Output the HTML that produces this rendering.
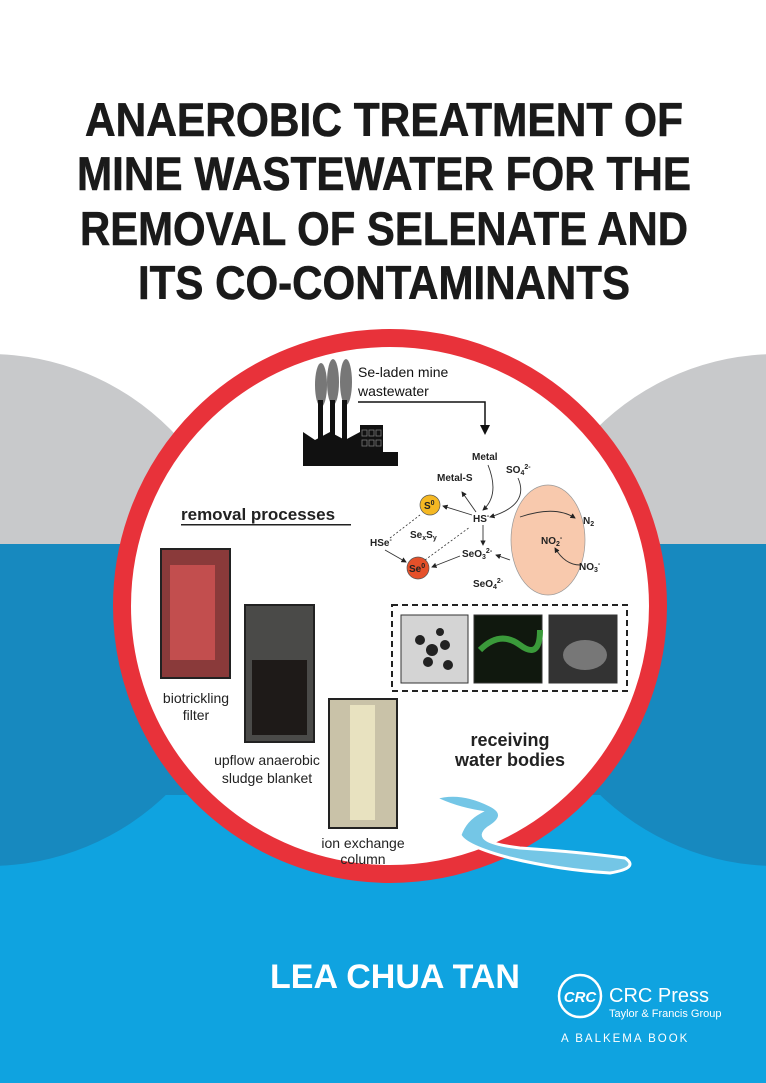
<!DOCTYPE html>
<html><head><meta charset="utf-8"><style>
html,body{margin:0;padding:0;width:766px;height:1083px;overflow:hidden;background:#fff}
svg{display:block}
text{font-family:"Liberation Sans",Arial,sans-serif}
</style></head><body>
<svg width="766" height="1083" viewBox="0 0 766 1083" xmlns="http://www.w3.org/2000/svg">
<defs>
<clipPath id="top"><rect x="0" y="0" width="766" height="544"/></clipPath>
<clipPath id="bot"><rect x="0" y="544" width="766" height="600"/></clipPath>
<marker id="ah" markerWidth="6" markerHeight="6" refX="5" refY="3" orient="auto"><path d="M0,0 L6,3 L0,6z" fill="#222"/></marker>
</defs>
<rect x="0" y="544" width="766" height="539" fill="#0fa3e0"/>
<rect x="0" y="544" width="766" height="251" fill="#1789bf"/>
<g clip-path="url(#top)"><circle cx="-11" cy="610" r="256" fill="#c8c9cb"/><circle cx="777" cy="610" r="256" fill="#c8c9cb"/></g>
<g clip-path="url(#bot)"><circle cx="-11" cy="610" r="256" fill="#1789bf"/><circle cx="777" cy="610" r="256" fill="#1789bf"/></g>

<g font-weight="bold" font-size="47" fill="#1a1a1a" text-anchor="middle" stroke="#1a1a1a" stroke-width="0.6">
<text x="384" y="136" textLength="598" lengthAdjust="spacingAndGlyphs">ANAEROBIC TREATMENT OF</text>
<text x="384" y="190" textLength="614" lengthAdjust="spacingAndGlyphs">MINE WASTEWATER FOR THE</text>
<text x="384" y="245" textLength="608" lengthAdjust="spacingAndGlyphs">REMOVAL OF SELENATE AND</text>
<text x="384" y="299" textLength="492" lengthAdjust="spacingAndGlyphs">ITS CO-CONTAMINANTS</text>
</g>

<circle cx="390" cy="606" r="268" fill="#fff" stroke="#e8323a" stroke-width="18"/>

<!-- factory -->
<g fill="#777"><ellipse cx="321" cy="385" rx="6" ry="22"/><ellipse cx="333" cy="382" rx="6" ry="23"/><ellipse cx="346" cy="382" rx="6" ry="23"/></g>
<g fill="#111">
<rect x="318" y="400" width="5" height="45"/><rect x="330" y="400" width="5" height="45"/><rect x="342" y="400" width="5" height="45"/>
<path d="M303,430 L303,466 L398,466 L398,452 L383,452 L383,425 L360,425 L360,432 L345,440 L330,432 L315,440 L303,432z"/>
</g>
<g fill="none" stroke="#777" stroke-width="0.8">
<rect x="362" y="430" width="5" height="6"/><rect x="369" y="430" width="5" height="6"/><rect x="376" y="430" width="5" height="6"/>
<rect x="362" y="440" width="5" height="6"/><rect x="369" y="440" width="5" height="6"/><rect x="376" y="440" width="5" height="6"/>
</g>
<text x="358" y="377" font-size="14" fill="#111">Se-laden mine</text>
<text x="358" y="396" font-size="14" fill="#111">wastewater</text>
<path d="M358,402 H485 V428" fill="none" stroke="#111" stroke-width="1.5"/>
<path d="M480,425 L485,435 L490,425z" fill="#111"/>

<!-- chemistry -->
<ellipse cx="548" cy="540" rx="37" ry="55" fill="#f8c9ad" stroke="#999" stroke-width="0.7"/>
<g font-size="10" font-weight="bold" fill="#222">
<text x="472" y="460">Metal</text>
<text x="506" y="473">SO<tspan font-size="7" dy="2">4</tspan><tspan font-size="7" dy="-6">2-</tspan></text>
<text x="437" y="481">Metal-S</text>
<text x="473" y="522">HS<tspan font-size="7" dy="-4">-</tspan></text>
<text x="583" y="524">N<tspan font-size="7" dy="2">2</tspan></text>
<text x="541" y="544">NO<tspan font-size="7" dy="2">2</tspan><tspan font-size="7" dy="-6">-</tspan></text>
<text x="579" y="570">NO<tspan font-size="7" dy="2">3</tspan><tspan font-size="7" dy="-6">-</tspan></text>
<text x="370" y="546">HSe<tspan font-size="7" dy="-4">-</tspan></text>
<text x="410" y="538">Se<tspan font-size="7" dy="2">x</tspan><tspan dy="-2">S</tspan><tspan font-size="7" dy="2">y</tspan></text>
<text x="462" y="557">SeO<tspan font-size="7" dy="2">3</tspan><tspan font-size="7" dy="-6">2-</tspan></text>
<text x="473" y="587">SeO<tspan font-size="7" dy="2">4</tspan><tspan font-size="7" dy="-6">2-</tspan></text>
</g>
<circle cx="430" cy="505" r="10" fill="#f5b823" stroke="#555" stroke-width="0.7"/>
<text x="424" y="509" font-size="10" font-weight="bold" fill="#222">S<tspan font-size="7" dy="-4">0</tspan></text>
<circle cx="418" cy="568" r="11" fill="#e5502a" stroke="#555" stroke-width="0.7"/>
<text x="409" y="572" font-size="10" font-weight="bold" fill="#222">Se<tspan font-size="7" dy="-4">0</tspan></text>
<g stroke="#333" stroke-width="0.9" fill="none" marker-end="url(#ah)">
<path d="M472,515 L443,506"/><path d="M476,512 L462,492"/><path d="M488,465 Q500,495 483,510"/>
<path d="M518,478 Q530,505 490,517"/><path d="M483,525 L483,545"/><path d="M460,556 L432,567"/>
<path d="M520,517 Q555,505 575,518"/><path d="M580,565 Q565,565 555,548"/><path d="M510,560 L496,555"/>
<path d="M385,550 L406,562"/>
</g>
<g stroke="#333" stroke-width="0.8" fill="none" stroke-dasharray="2,2">
<path d="M390,538 L420,515"/><path d="M425,560 L470,527"/>
</g>

<text x="181" y="520" font-size="17" font-weight="bold" fill="#222">removal processes</text>
<rect x="181" y="524" width="170" height="1.5" fill="#222"/>

<!-- photos -->
<rect x="161" y="549" width="69" height="129" fill="#8a3a3a" stroke="#222" stroke-width="2"/>
<rect x="170" y="565" width="45" height="95" fill="#c24e4e"/>
<rect x="245" y="605" width="69" height="137" fill="#4a4a48" stroke="#222" stroke-width="2"/>
<rect x="252" y="660" width="55" height="75" fill="#1e1a18"/>
<rect x="329" y="699" width="68" height="129" fill="#c9c2a8" stroke="#222" stroke-width="2"/>
<rect x="350" y="705" width="25" height="115" fill="#e8e2c0"/>
<g font-size="14" fill="#222" text-anchor="middle">
<text x="196" y="703">biotrickling</text><text x="196" y="720">filter</text>
<text x="267" y="765">upflow anaerobic</text><text x="267" y="783">sludge blanket</text>
<text x="363" y="848">ion exchange</text><text x="363" y="864">column</text>
</g>

<rect x="392" y="605" width="235" height="86" fill="none" stroke="#222" stroke-width="2" stroke-dasharray="6,4"/>
<rect x="401" y="615" width="67" height="68" fill="#d4d4d4" stroke="#333"/>
<g fill="#222"><circle cx="420" cy="640" r="5"/><circle cx="432" cy="650" r="6"/><circle cx="445" cy="645" r="5"/><circle cx="428" cy="662" r="5"/><circle cx="448" cy="665" r="5"/><circle cx="440" cy="632" r="4"/></g>
<rect x="474" y="615" width="68" height="68" fill="#10180e" stroke="#333"/>
<path d="M480,650 Q500,630 520,645 T540,630" stroke="#3a9a3a" stroke-width="6" fill="none"/>
<rect x="549" y="615" width="68" height="68" fill="#333" stroke="#333"/>
<ellipse cx="585" cy="655" rx="22" ry="15" fill="#777"/>

<g font-size="18" font-weight="bold" fill="#222" text-anchor="middle">
<text x="510" y="746">receiving</text><text x="510" y="766">water bodies</text>
</g>
<path d="M435,798 Q460,790 490,805 Q510,815 488,828 Q470,842 520,848 Q580,852 625,858 Q640,868 610,873 Q560,870 510,858 Q465,846 460,835 Q465,820 480,812 Q455,808 435,798z" fill="#74c6e6" stroke="#fff" stroke-width="3"/>

<text x="395" y="988" font-size="34" font-weight="bold" fill="#fff" text-anchor="middle">LEA CHUA TAN</text>
<circle cx="580" cy="996" r="21" fill="none" stroke="#fff" stroke-width="2.5"/>
<text x="580" y="1002" font-size="15" font-weight="bold" font-style="italic" fill="#fff" text-anchor="middle" font-family="Liberation Serif">CRC</text>
<text x="609" y="1002" font-size="20" fill="#fff">CRC Press</text>
<text x="609" y="1017" font-size="11" fill="#fff">Taylor &amp; Francis Group</text>
<text x="561" y="1042" font-size="11.5" fill="#fff" letter-spacing="2">A BALKEMA BOOK</text>
</svg>
</body></html>
